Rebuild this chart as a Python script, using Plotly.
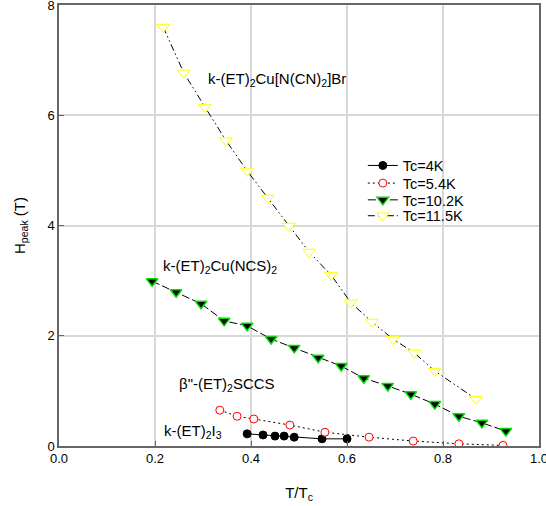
import plotly.graph_objects as go

# Tc = 4K  (k-(ET)2I3)
x_4k = [0.392, 0.425, 0.450, 0.469, 0.490, 0.548, 0.600]
y_4k = [0.22, 0.20, 0.18, 0.18, 0.16, 0.13, 0.13]

# Tc = 5.4K  (beta''-(ET)2SCCS)
x_54k = [0.335, 0.371, 0.406, 0.481, 0.554, 0.646, 0.738, 0.833, 0.925]
y_54k = [0.65, 0.54, 0.49, 0.38, 0.25, 0.16, 0.09, 0.04, 0.01]

# Tc = 10.2K  (k-(ET)2Cu(NCS)2)
x_102k = [0.194, 0.244, 0.296, 0.344, 0.392, 0.442, 0.490, 0.540, 0.588,
          0.635, 0.685, 0.733, 0.783, 0.833, 0.881, 0.931]
y_102k = [2.99, 2.79, 2.58, 2.27, 2.18, 1.94, 1.78, 1.60, 1.45,
          1.23, 1.09, 0.94, 0.76, 0.54, 0.42, 0.27]

# Tc = 11.5K  (k-(ET)2Cu[N(CN)2]Br)
x_115k = [0.217, 0.260, 0.304, 0.348, 0.392, 0.435, 0.479, 0.521, 0.567,
          0.608, 0.652, 0.696, 0.740, 0.783, 0.869]
y_115k = [7.60, 6.77, 6.15, 5.54, 4.99, 4.50, 3.99, 3.52, 3.10,
          2.60, 2.25, 1.94, 1.69, 1.36, 0.85]

x_ticks = [0.0, 0.2, 0.4, 0.6, 0.8, 1.0]
x_tick_labels = ["0.0", "0.2", "0.4", "0.6", "0.8", "1.0"]
y_ticks = [0, 2, 4, 6, 8]

FONT = "Liberation Sans, Arial, sans-serif"

fig = go.Figure()

fig.add_trace(go.Scatter(
    x=x_4k, y=y_4k, mode="lines+markers", name="Tc=4K", legend="legend",
    line=dict(color="black", width=1, dash="solid"),
    marker=dict(symbol="circle", size=8, color="black",
                line=dict(color="black", width=1)),
))
fig.add_trace(go.Scatter(
    x=x_54k, y=y_54k, mode="lines+markers", name="Tc=5.4K", legend="legend2",
    line=dict(color="black", width=1, dash="2px,3px"),
    marker=dict(symbol="circle", size=8, color="white",
                line=dict(color="red", width=1)),
))
fig.add_trace(go.Scatter(
    x=x_102k, y=y_102k, mode="lines+markers", name="Tc=10.2K", legend="legend3",
    line=dict(color="black", width=1, dash="8px,3px"),
    marker=dict(symbol="triangle-down", size=10, color="black",
                line=dict(color="#00e000", width=1.5)),
))
fig.add_trace(go.Scatter(
    x=x_115k, y=y_115k, mode="lines+markers", name="Tc=11.5K", legend="legend4",
    line=dict(color="black", width=1, dash="7px,3px,1.5px,3px,1.5px,3px"),
    marker=dict(symbol="triangle-down", size=11, color="white",
                line=dict(color="#ffff00", width=1)),
))

ann_font = dict(family=FONT, size=15, color="black")
annotations = [
    dict(x=0.306, y=6.64, text="k-(ET)<sub>2</sub>Cu[N(CN)<sub>2</sub>]Br"),
    dict(x=0.213, y=3.25, text="k-(ET)<sub>2</sub>Cu(NCS)<sub>2</sub>"),
    dict(x=0.246, y=1.11, text='β"-(ET)<sub>2</sub>SCCS'),
    dict(x=0.215, y=0.27, text="k-(ET)<sub>2</sub>I<sub>3</sub>"),
]
for a in annotations:
    fig.add_annotation(x=a["x"], y=a["y"], text=a["text"], showarrow=False,
                       xref="x", yref="y", xanchor="left", yanchor="middle",
                       font=ann_font)

# one legend box per entry so the row spacing can match the reference
leg_common = dict(x=0.633, xanchor="left", yanchor="middle",
                  bgcolor="rgba(0,0,0,0)", borderwidth=0,
                  font=dict(family=FONT, size=14.5, color="black"),
                  itemwidth=30)
leg_rows_y = [0.636, 0.596, 0.558, 0.522]

fig.update_layout(
    width=546, height=506,
    margin=dict(l=59, r=7, t=5, b=60, autoexpand=False),
    paper_bgcolor="white", plot_bgcolor="white",
    font=dict(family=FONT, size=13, color="black"),
    showlegend=True,
    legend=dict(y=leg_rows_y[0], **leg_common),
    legend2=dict(y=leg_rows_y[1], **leg_common),
    legend3=dict(y=leg_rows_y[2], **leg_common),
    legend4=dict(y=leg_rows_y[3], **leg_common),
    xaxis=dict(range=[0, 1.0], tickvals=x_ticks, ticktext=x_tick_labels,
               showgrid=True, gridcolor="#d8d8d8", gridwidth=1.5,
               zeroline=False, showline=True, linecolor="#666666",
               linewidth=1.5, mirror=True, ticks="inside", ticklen=5,
               tickcolor="#666666", automargin=False,
               ticklabeloverflow="allow",
               title=dict(text="T/T<sub>c</sub>", font=dict(size=15), standoff=22),
               tickfont=dict(size=13)),
    yaxis=dict(range=[0, 8], tickvals=y_ticks,
               showgrid=True, gridcolor="#d8d8d8", gridwidth=1.5,
               zeroline=False, showline=True, linecolor="#666666",
               linewidth=1.5, mirror=True, ticks="inside", ticklen=5,
               tickcolor="#666666", automargin=False,
               ticklabeloverflow="allow",
               title=dict(text="H<sub>peak</sub> (T)", font=dict(size=15), standoff=18),
               tickfont=dict(size=13)),
)

fig.write_html("out.html",
               config={"displayModeBar": False},
               post_script="document.body.style.margin='0px';"
                           "document.body.style.padding='0px';")
